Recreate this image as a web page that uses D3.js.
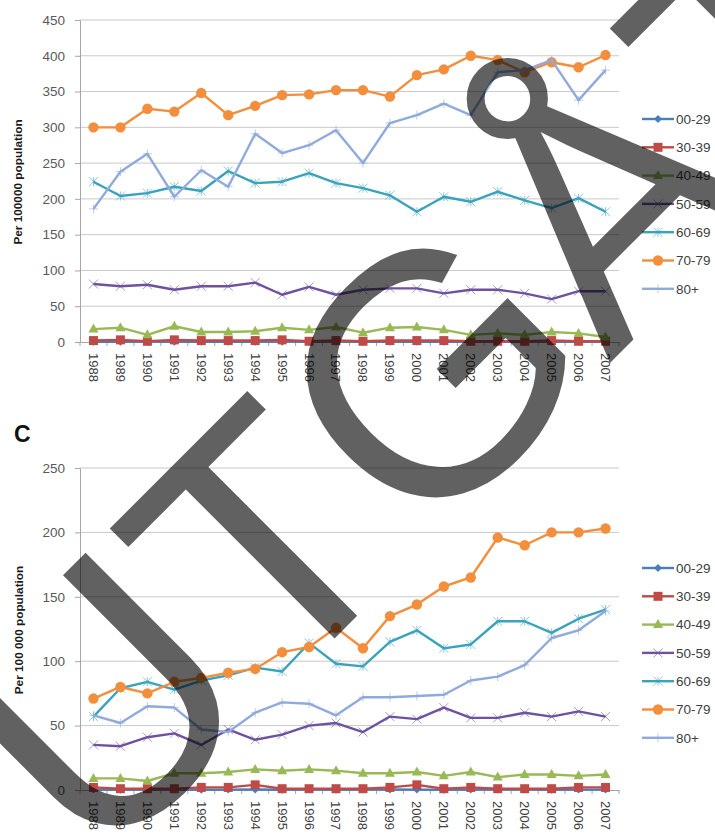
<!DOCTYPE html>
<html>
<head>
<meta charset="utf-8">
<script src="https://cdn.jsdelivr.net/npm/d3@7"></script>
<style>
  html, body { margin: 0; padding: 0; background: #fff; }
  svg { display: block; }
</style>
</head>
<body>
<script>
// Category axis: calendar years
const years = ["1988","1989","1990","1991","1992","1993","1994","1995","1996","1997",
               "1998","1999","2000","2001","2002","2003","2004","2005","2006","2007"];
const ageGroups = ["00-29","30-39","40-49","50-59","60-69","70-79","80+"];

// Upper panel, rates per 100000 population by age group
const b0029 = [0.4,0.3,0.5,0.3,0.2,0.4,0.3,0.5,0.3,0.4,0.2,0.3,0.4,0.3,0.2,0.3,0.3,0.2,0.3,0.2];
const b3039 = [2,3,1,3,2,2,2,3,1,2,1,2,2,2,1,1,1,2,1,1];
const b4049 = [18,20,10,22,14,14,15,20,17,21,13,20,21,17,10,12,10,14,12,7];
const b5059 = [81,78,80,73,78,78,83,66,77,66,73,75,75,68,73,73,68,60,71,71];
const b6069 = [224,204,208,217,211,239,222,224,236,222,215,205,182,203,196,210,198,187,201,182];
const b7079 = [300,300,326,322,348,317,330,345,346,352,352,343,373,381,400,394,377,391,384,401];
const b80 = [186,238,263,203,240,217,291,264,275,296,250,306,317,333,317,377,380,394,338,380];
const bTicks = [0,50,100,150,200,250,300,350,400,450];

// Lower panel (C), rates per 100 000 population by age group
const c0029 = [0.3,0.2,0.4,0.3,0.2,0.3,0.4,0.2,0.3,0.2,0.3,0.4,0.3,0.2,0.3,0.4,0.3,0.2,0.3,0.3];
const c3039 = [2,1,1,1,2,2,4,1,1,1,1,2,4,1,2,1,1,1,2,2];
const c4049 = [9,9,7,13,13,14,16,15,16,15,13,13,14,11,14,10,12,12,11,12];
const c5059 = [35,34,41,44,35,47,39,43,50,52,45,57,55,64,56,56,60,57,61,57];
const c6069 = [57,79,84,78,85,89,95,92,114,98,96,115,124,110,113,131,131,122,133,140];
const c7079 = [71,80,75,84,87,91,94,107,111,126,110,135,144,158,165,196,190,200,200,203];
const c80 = [58,52,65,64,47,45,60,68,67,58,72,72,73,74,85,88,97,118,124,139];
const cTicks = [0,50,100,150,200,250];

const colors = ["#4A7EBB","#BE4B48","#98B954","#6E51A0","#3AA3BC","#F28E3C","#8FAADC"];
const markerKinds = ["diamond","square","triangle","x","star","circle","plus"];

const W = 715, H = 839;
const FONT = "'Liberation Sans', Arial, sans-serif";
const svg = d3.select("body").append("svg")
  .attr("width", W).attr("height", H)
  .style("font-family", FONT);
svg.append("rect").attr("width", W).attr("height", H).attr("fill", "#fff");

function drawMarker(g, kind, cx, cy, color) {
  const s = 4.5;
  if (kind === "circle") {
    g.append("circle").attr("cx", cx).attr("cy", cy).attr("r", 5.2).attr("fill", color);
  } else if (kind === "square") {
    g.append("rect").attr("x", cx - 4.5).attr("y", cy - 4.5).attr("width", 9).attr("height", 9).attr("fill", color);
  } else if (kind === "diamond") {
    g.append("path").attr("d", `M${cx},${cy-4}L${cx+4},${cy}L${cx},${cy+4}L${cx-4},${cy}Z`).attr("fill", color);
  } else if (kind === "triangle") {
    g.append("path").attr("d", `M${cx},${cy-5.5}L${cx+5},${cy+3.5}L${cx-5},${cy+3.5}Z`).attr("fill", color);
  } else if (kind === "x") {
    g.append("path").attr("d", `M${cx-s},${cy-s}L${cx+s},${cy+s}M${cx-s},${cy+s}L${cx+s},${cy-s}`)
      .attr("stroke", color).attr("stroke-width", 1).attr("fill", "none").attr("opacity", 0.6);
  } else if (kind === "star") {
    g.append("path").attr("d", `M${cx-s},${cy-s}L${cx+s},${cy+s}M${cx-s},${cy+s}L${cx+s},${cy-s}M${cx},${cy-s}L${cx},${cy+s}`)
      .attr("stroke", color).attr("stroke-width", 1).attr("fill", "none").attr("opacity", 0.6);
  } else if (kind === "plus") {
    g.append("path").attr("d", `M${cx-s},${cy}L${cx+s},${cy}M${cx},${cy-s}L${cx},${cy+s}`)
      .attr("stroke", color).attr("stroke-width", 1).attr("fill", "none").attr("opacity", 0.6);
  }
}

function drawPanel(opts) {
  const { series, ticks, yMax, yBottom, yTop, title, titleY, legendTop } = opts;
  const g = svg.append("g");
  const x = d3.scaleBand().domain(years).range([80, 619]);
  const y = d3.scaleLinear().domain([0, yMax]).range([yBottom, yTop]);

  // horizontal gridlines
  g.selectAll("line.grid").data(ticks.filter(t => t > 0)).join("line")
    .attr("x1", 80).attr("x2", 619)
    .attr("y1", d => y(d)).attr("y2", d => y(d))
    .attr("stroke", "#C9C9C9").attr("stroke-width", 1);

  // value axis
  const yAxis = g.append("g").attr("transform", "translate(80,0)")
    .call(d3.axisLeft(y).tickValues(ticks).tickSize(5).tickPadding(10));
  yAxis.select(".domain").attr("stroke", "#A6A6A6");
  yAxis.selectAll(".tick line").attr("stroke", "#A6A6A6");
  yAxis.selectAll(".tick text").attr("fill", "#5a5a5a").attr("font-size", 13.5)
    .style("font-family", FONT);

  // category axis along zero
  const xAxis = g.append("g").attr("transform", `translate(0,${y(0)})`)
    .call(d3.axisBottom(x).tickSize(0).tickPadding(0));
  xAxis.select(".domain").attr("stroke", "#A6A6A6");
  xAxis.selectAll(".tick text")
    .attr("fill", "#404040").attr("font-size", 13)
    .style("font-family", FONT)
    .attr("text-anchor", "start").attr("dy", "0.35em")
    .attr("transform", "translate(0,11) rotate(90)");
  // tick marks between categories
  g.selectAll("line.xt").data(d3.range(years.length + 1)).join("line")
    .attr("x1", i => 80 + i * x.step()).attr("x2", i => 80 + i * x.step())
    .attr("y1", y(0)).attr("y2", y(0) + 4)
    .attr("stroke", "#A6A6A6");

  // axis title
  g.append("text")
    .attr("transform", `translate(${opts.titleX},${titleY}) rotate(-90)`)
    .attr("text-anchor", "middle").attr("font-size", 11.8).attr("font-weight", "bold")
    .attr("fill", "#1a1a1a").text(title);

  // series lines and markers
  const line = d3.line().x((d, i) => x(years[i]) + x.bandwidth() / 2).y(d => y(d));
  series.forEach((vals, k) => {
    g.append("path").datum(vals).attr("d", line)
      .attr("fill", "none").attr("stroke", colors[k]).attr("stroke-width", 2.4)
      .attr("stroke-linejoin", "round");
    const mg = g.append("g");
    vals.forEach((v, i) => drawMarker(mg, markerKinds[k], x(years[i]) + x.bandwidth() / 2, y(v), colors[k]));
  });

  // legend
  const lg = g.append("g");
  ageGroups.forEach((name, k) => {
    const ly = legendTop + k * 28.3;
    lg.append("line").attr("x1", 642).attr("x2", 674).attr("y1", ly).attr("y2", ly)
      .attr("stroke", colors[k]).attr("stroke-width", 2.4);
    drawMarker(lg, markerKinds[k], 658, ly, colors[k]);
    lg.append("text").attr("x", 676).attr("y", ly).attr("dy", "0.36em")
      .attr("font-size", 13.5).attr("fill", "#404040").text(name);
  });
}

drawPanel({
  series: [b0029, b3039, b4049, b5059, b6069, b7079, b80],
  ticks: bTicks, yMax: 450, yBottom: 342, yTop: 20,
  title: "Per 100000 population", titleX: 22, titleY: 182, legendTop: 119
});

drawPanel({
  series: [c0029, c3039, c4049, c5059, c6069, c7079, c80],
  ticks: cTicks, yMax: 250, yBottom: 790, yTop: 468,
  title: "Per 100 000 population", titleX: 23, titleY: 630, legendTop: 568
});

// panel letter
svg.append("text").attr("x", 14).attr("y", 442)
  .attr("font-size", 23).attr("font-weight", "bold").attr("fill", "#111").text("C");

// diagonal stamp across the figure
svg.append("text")
  .attr("transform", "translate(96,877) rotate(-45)")
  .attr("font-size", 344)
  .style("font-family", FONT)
  .attr("fill", "#000").attr("fill-opacity", 0.62)
  .text("UTGÅTT");
</script>
</body>
</html>
